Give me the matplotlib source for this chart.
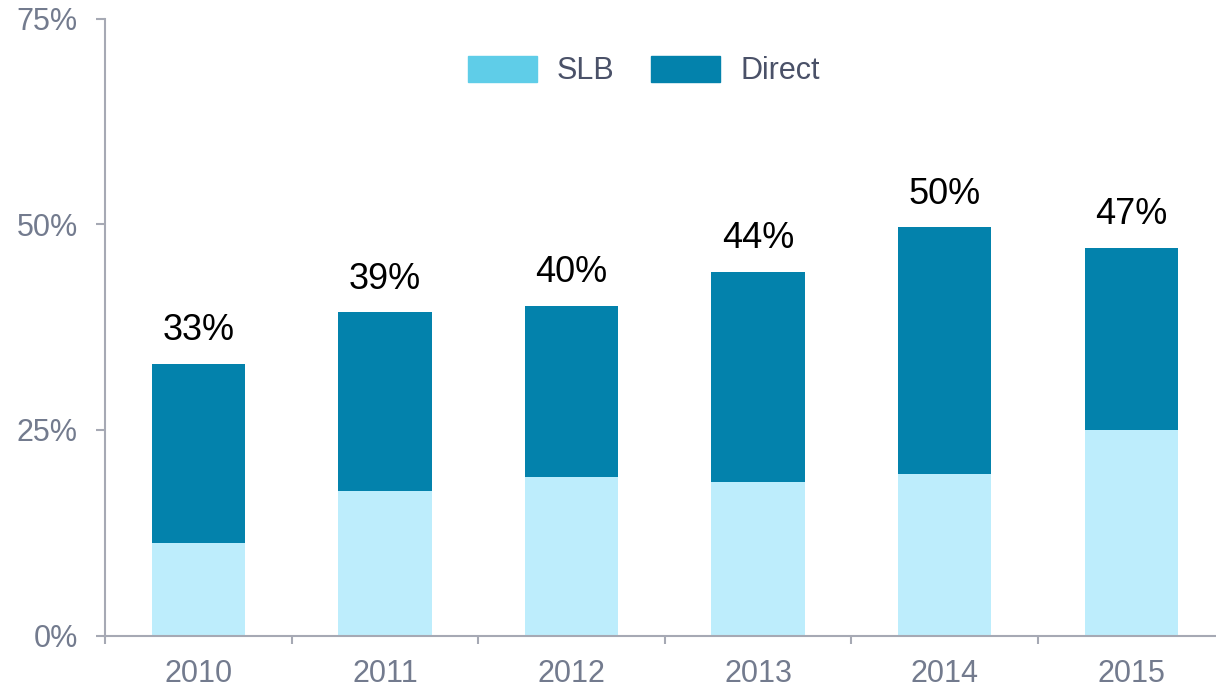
import matplotlib

matplotlib.use('Agg')

import matplotlib.pyplot as plt
import numpy as np
from matplotlib.patches import Patch
from matplotlib.ticker import FixedLocator, PercentFormatter

plt.rcParams['font.family'] = ['Liberation Sans', 'DejaVu Sans']

years = ['2010', '2011', '2012', '2013', '2014', '2015']
slb = [11.3, 17.6, 19.3, 18.6, 19.6, 25.0]
direct = [21.7, 21.7, 20.8, 25.6, 30.0, 22.1]
y_ticks = [0, 25, 50, 75]

slb_bar_color = '#BDEDFC'
slb_legend_color = '#5FCDE8'
direct_color = '#0382AC'
axis_color = '#A6A9B4'
tick_text = '#737B8E'
legend_text = '#4A5168'

fig = plt.figure(figsize=(12.16, 6.88), dpi=100)
ax = fig.add_axes([105 / 1216, 1 - 635.5 / 688, 1 - 105 / 1216, (635.5 - 18.5) / 688])

x = np.arange(len(years))
totals = np.array(slb) + np.array(direct)

ax.bar(x, slb, width=0.5, color=slb_bar_color, zorder=2)
ax.bar(x, direct, width=0.5, bottom=slb, color=direct_color, zorder=2)

# total labels above each stack
for xi, t in zip(x, totals):
    ax.annotate(f'{round(t):.0f}%', (xi, t), xytext=(0, 17), textcoords='offset points',
                ha='center', va='baseline', fontsize=26, color='black')

ax.set_xlim(-0.5, (1216 - 105) / 186.6 - 0.5)
ax.set_ylim(0, 75)
ax.set_yticks(y_ticks)
ax.yaxis.set_major_formatter(PercentFormatter(decimals=0))
ax.set_xticks(x)
ax.set_xticklabels(years)
ax.xaxis.set_minor_locator(FixedLocator(np.arange(-0.5, len(years), 1.0)))

ax.tick_params(axis='x', which='major', length=0, pad=17, labelsize=22, labelcolor=tick_text)
ax.tick_params(axis='x', which='minor', length=6, width=1.5, direction='out', color=axis_color)
ax.tick_params(axis='y', length=6.5, width=1.5, color=axis_color, pad=13,
               labelsize=22, labelcolor=tick_text)

for s in ['top', 'right']:
    ax.spines[s].set_visible(False)
for s in ['left', 'bottom']:
    ax.spines[s].set_color(axis_color)
    ax.spines[s].set_linewidth(1.5)

handles = [Patch(color=slb_legend_color, label='SLB'), Patch(color=direct_color, label='Direct')]
leg = fig.legend(handles=handles, loc='center', bbox_to_anchor=(644 / 1216, 1 - 71 / 688), ncol=2,
                 frameon=False, fontsize=22, handlelength=2.25, handleheight=0.95,
                 handletextpad=0.65, columnspacing=1.2)
for t in leg.get_texts():
    t.set_color(legend_text)

fig.savefig('out.png', dpi=100)
